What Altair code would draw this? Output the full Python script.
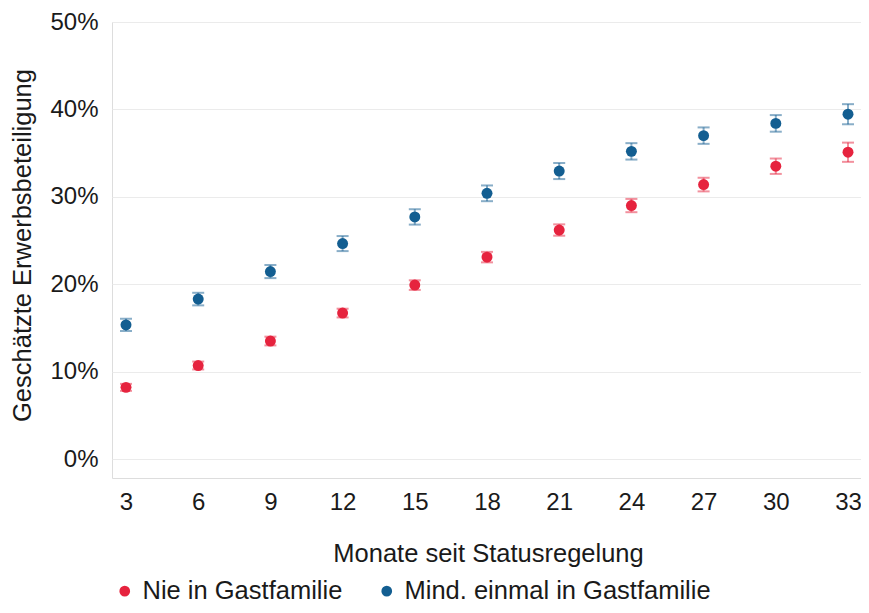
import altair as alt
import pandas as pd

months = [3, 6, 9, 12, 15, 18, 21, 24, 27, 30, 33]
groups = ["Nie in Gastfamilie", "Mind. einmal in Gastfamilie"]
nie_vals = [8.2, 10.7, 13.5, 16.7, 19.9, 23.1, 26.2, 29.0, 31.4, 33.5, 35.1]
nie_ci = [0.4, 0.45, 0.5, 0.5, 0.55, 0.6, 0.65, 0.76, 0.78, 0.88, 1.1]
mind_vals = [15.35, 18.3, 21.45, 24.65, 27.7, 30.4, 32.95, 35.2, 37.0, 38.4, 39.45]
mind_ci = [0.7, 0.72, 0.75, 0.86, 0.88, 0.9, 0.92, 0.94, 0.94, 0.95, 1.15]
colors = ["#E6233E", "#135E91"]
y_ticks = [0, 0.1, 0.2, 0.3, 0.4, 0.5]

rows = []
for g, vals, ci in [(groups[0], nie_vals, nie_ci), (groups[1], mind_vals, mind_ci)]:
    for m, v, c in zip(months, vals, ci):
        rows.append({"Monat": m, "Gruppe": g, "wert": v / 100,
                     "lo": (v - c) / 100, "hi": (v + c) / 100})
df = pd.DataFrame(rows)

FONT = "Liberation Sans"
TXT = "#1a1a1a"
TICK_FS = 24
TITLE_FS = 25.5
LEG_FS = 25.5

xenc = alt.X("Monat:Q",
             scale=alt.Scale(domain=[2.4183, 33.540], nice=False, zero=False),
             axis=alt.Axis(values=months, title="Monate seit Statusregelung",
                           grid=False, domain=False, ticks=False, tickSize=0,
                           labelPadding=12, labelFontSize=TICK_FS, labelColor=TXT,
                           labelFont=FONT, titleFont=FONT, titleFontSize=TITLE_FS,
                           titleFontWeight="normal", titleColor=TXT,
                           titleBaseline="top", titleX=376, titleY=63))
yscale = alt.Scale(domain=[-0.0217, 0.5], nice=False, zero=False)
color_scale = alt.Scale(domain=groups, range=colors)


def legend():
    return alt.Legend(title=None, orient="none", direction="horizontal",
                      legendX=0, legendY=556, labelFontSize=LEG_FS,
                      labelFont=FONT, labelColor=TXT, labelLimit=500,
                      symbolType="circle", symbolSize=115, symbolOpacity=1,
                      symbolStrokeWidth=0, labelOffset=5,
                      columnPadding=31, padding=0)


bars = alt.Chart(df).mark_errorbar(ticks=True, size=12, thickness=2, opacity=0.5).encode(
    x=xenc,
    y=alt.Y("lo:Q", scale=yscale, title="Geschätzte Erwerbsbeteiligung"),
    y2="hi:Q",
    color=alt.Color("Gruppe:N", scale=color_scale, legend=legend()),
)

points = alt.Chart(df).mark_circle(size=120, opacity=1).encode(
    x=xenc,
    y=alt.Y("wert:Q", scale=yscale,
            axis=alt.Axis(values=y_ticks, format=".0%", title="Geschätzte Erwerbsbeteiligung",
                          grid=True, gridColor="#EBEBEB", gridWidth=1,
                          domain=False, ticks=False, tickSize=0, labelPadding=14,
                          labelFontSize=TICK_FS, labelColor=TXT, labelFont=FONT,
                          titleFont=FONT, titleFontSize=TITLE_FS, titleFontWeight="normal",
                          titleColor=TXT, titleAngle=270, titleBaseline="bottom",
                          titleX=-76.5, titleY=223)),
    color=alt.Color("Gruppe:N", scale=color_scale, legend=legend()),
)

chart = alt.layer(bars, points).properties(
    width=749, height=456,
    autosize=alt.AutoSizeParams(type="none"),
    padding={"left": 104, "top": 14, "right": 0, "bottom": 127},
).configure_view(stroke=None).configure(background="white")

chart.save("out.html", embed_options={"renderer": "svg", "actions": False})
